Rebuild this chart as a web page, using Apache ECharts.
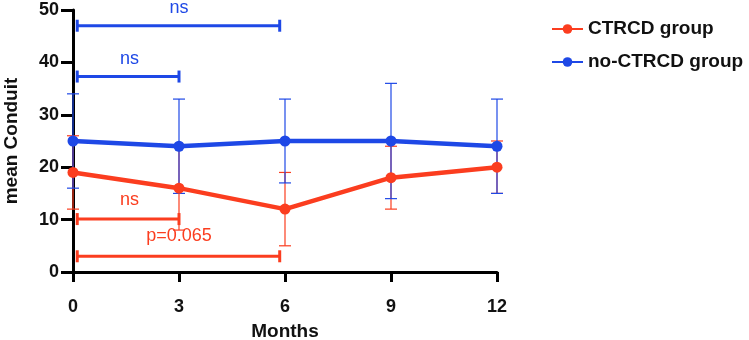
<!DOCTYPE html>
<html><head><meta charset="utf-8">
<script src="https://cdn.jsdelivr.net/npm/echarts@6/dist/echarts.min.js"></script>
<style>html,body{margin:0;padding:0;background:#fff}#c{width:749px;height:340px}</style>
</head><body><div id="c"></div>
<script>
const months = [0, 3, 6, 9, 12];
const ctrcdMean = [19, 16, 12, 18, 20];
const ctrcdSD   = [7, 8, 7, 6, 5];
const noMean    = [25, 24, 25, 25, 24];
const noSD      = [9, 9, 8, 11, 9];
// brackets: [from month, to month, y value, label, label month, label y]
const blueBrackets = [[0.12, 5.85, 47, 'ns', 3, 50.3], [0.12, 3, 37.3, 'ns', 1.6, 40.7]];
const redBrackets  = [[0.12, 3, 10.1, 'ns', 1.6, 13.7], [0.12, 5.85, 3, 'p=0.065', 3, 6.8]];

const RED = '#fb3d1f', BLUE = '#1e48e6';
const FONT = 'Liberation Sans, Arial, Helvetica, sans-serif';

function errData(m, sd){ return months.map((x,i)=>[x, m[i]-sd[i], m[i]+sd[i]]); }
function errSeries(m, sd, color){
  return {
    type:'custom', silent:true, z:3,
    data: errData(m, sd),
    renderItem(params, api){
      const x = api.value(0);
      const lo = api.coord([x, api.value(1)]);
      const hi = api.coord([x, api.value(2)]);
      const w = 6;
      const st = {stroke: color, lineWidth: 1.2};
      return {type:'group', children:[
        {type:'line', shape:{x1:lo[0], y1:lo[1], x2:hi[0], y2:hi[1]}, style:st},
        {type:'line', shape:{x1:lo[0]-w, y1:lo[1], x2:lo[0]+w, y2:lo[1]}, style:st},
        {type:'line', shape:{x1:hi[0]-w, y1:hi[1], x2:hi[0]+w, y2:hi[1]}, style:st}
      ]};
    }
  };
}
function bracketSeries(br, color){
  return {
    type:'custom', silent:true, z:5,
    data: br,
    renderItem(params, api){
      const d = br[params.dataIndex];
      const a = api.coord([d[0], d[2]]);
      const b = api.coord([d[1], d[2]]);
      const t = api.coord([d[4], d[5]]);
      const h = 6;
      const st = {stroke: color, lineWidth: 3};
      return {type:'group', children:[
        {type:'line', shape:{x1:a[0], y1:a[1], x2:b[0], y2:b[1]}, style:st},
        {type:'line', shape:{x1:a[0], y1:a[1]-h, x2:a[0], y2:a[1]+h}, style:st},
        {type:'line', shape:{x1:b[0], y1:b[1]-h, x2:b[0], y2:b[1]+h}, style:st},
        {type:'text', x:t[0], y:t[1], style:{text:d[3], fill:color, font:'18px '+FONT, align:'center', verticalAlign:'middle'}}
      ]};
    }
  };
}

const chart = echarts.init(document.getElementById('c'));
chart.setOption({
  animation:false,
  grid:{left:73, right:252, top:10, bottom:68, containLabel:false, outerBoundsMode:'none'},
  legend:{
    left:546, top:14, orient:'vertical', itemGap:13, itemWidth:31, itemHeight:12,
    textStyle:{fontFamily:FONT, fontWeight:'bold', fontSize:19, lineHeight:20, color:'#111'},
    data:['CTRCD group','no-CTRCD group']
  },
  xAxis:{
    type:'value', min:0, max:12, interval:3,
    name:'Months', nameLocation:'middle', nameGap:50,
    nameTextStyle:{fontFamily:FONT, fontWeight:'bold', fontSize:19, color:'#111'},
    axisLine:{onZero:false, lineStyle:{color:'#000', width:3}},
    axisTick:{show:true, length:10, lineStyle:{color:'#000', width:3}},
    axisLabel:{margin:26, fontFamily:FONT, fontWeight:'bold', fontSize:18, color:'#111'},
    splitLine:{show:false}
  },
  yAxis:{
    type:'value', min:0, max:50, interval:10,
    name:'mean Conduit', nameLocation:'middle', nameGap:52,
    nameTextStyle:{fontFamily:FONT, fontWeight:'bold', fontSize:19, color:'#111'},
    axisLine:{show:true, onZero:false, lineStyle:{color:'#000', width:3}},
    axisTick:{show:true, length:12, lineStyle:{color:'#000', width:3}},
    axisLabel:{margin:14, fontFamily:FONT, fontWeight:'bold', fontSize:18, color:'#111'},
    splitLine:{show:false}
  },
  series:[
    errSeries(ctrcdMean, ctrcdSD, RED),
    errSeries(noMean, noSD, BLUE),
    {name:'CTRCD group', type:'line', z:4, data: months.map((x,i)=>[x, ctrcdMean[i]]),
     symbol:'circle', symbolSize:11, lineStyle:{color:RED, width:4.5}, itemStyle:{color:RED}},
    {name:'no-CTRCD group', type:'line', z:4, data: months.map((x,i)=>[x, noMean[i]]),
     symbol:'circle', symbolSize:11, lineStyle:{color:BLUE, width:4.5}, itemStyle:{color:BLUE}},
    bracketSeries(blueBrackets, BLUE),
    bracketSeries(redBrackets, RED)
  ]
});
</script></body></html>
